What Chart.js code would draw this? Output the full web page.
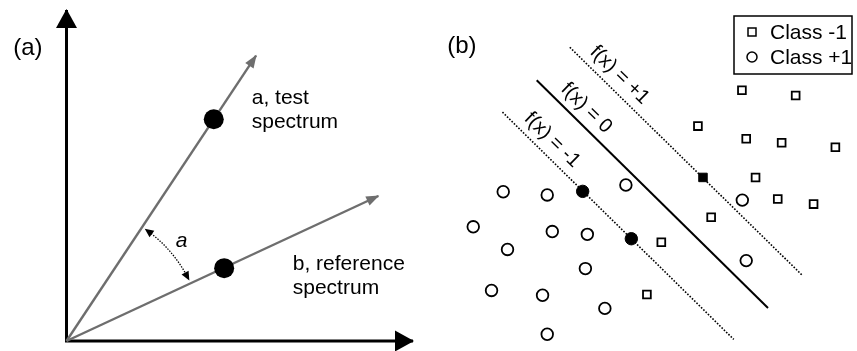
<!DOCTYPE html>
<html>
<head>
<meta charset="utf-8">
<script src="https://cdn.jsdelivr.net/npm/chart.js@4/dist/chart.umd.min.js"></script>
<style>
  html, body { margin: 0; padding: 0; background: #fff; }
  #wrap { position: relative; width: 857px; height: 351px; overflow: hidden; }
  canvas { position: absolute; top: 0; }
  #ca { left: 0; }
  #cb { left: 430px; }
</style>
</head>
<body>
<div id="wrap">
  <canvas id="ca" width="430" height="351"></canvas>
  <canvas id="cb" width="427" height="351"></canvas>
</div>
<script>
// ---------- Panel (a): spectral angle between two spectra ----------
const axisExtent = [10, 10];            // length of the x and y axes
const testVector = [5.47, 8.62];        // direction of a, test spectrum
const referenceVector = [9.0, 4.38];    // direction of b, reference spectrum
const testSpectrum = [4.25, 6.70];
const referenceSpectrum = [4.55, 2.20];
const angleArcRadius = 3.95;            // radius of the angle marker, x units
const spectrumLabels = [['a, test', 'spectrum'], ['b, reference', 'spectrum']];
const angleLabel = 'a';

// ---------- Panel (b): SVM decision boundary and margins ----------
const classMinusOne = [[7.24, 6.36], [8.62, 6.23], [6.11, 5.46], [7.35, 5.14], [8.26, 5.04],
  [9.64, 4.93], [7.59, 4.17], [8.16, 3.63], [9.08, 3.50], [6.45, 3.17], [5.17, 2.54], [4.80, 1.23]];
const classPlusOne = [[1.11, 3.81], [2.24, 3.73], [4.26, 3.98], [0.34, 2.93], [2.37, 2.81],
  [3.27, 2.74], [1.22, 2.36], [3.22, 1.88], [0.81, 1.33], [2.12, 1.21], [3.72, 0.88],
  [2.24, 0.23], [7.25, 3.60], [7.35, 2.08]];
const supportMinusOne = [[6.24, 4.17]];
const supportPlusOne = [[3.15, 3.82], [4.40, 2.63]];
const marginPlus = [[2.82, 7.44], [8.79, 1.71]];
const decisionBoundary = [[1.97, 6.61], [7.91, 0.89]];
const marginMinus = [[1.09, 5.81], [7.03, 0.10]];
const boundaryLabels = ['f(x) = +1', 'f(x) = 0', 'f(x) = -1'];
const legendLabels = ['Class -1', 'Class +1'];
const panelLabels = ['(a)', '(b)'];

const pts = (arr) => arr.map(([x, y]) => ({ x, y }));
const FONT = '"Liberation Sans", Arial, Helvetica, sans-serif';
const INK = '#000';
const GREY = '#6e6e6e';

function arrowHead(ctx, from, to, len, half, color) {
  const ang = Math.atan2(to.y - from.y, to.x - from.x);
  ctx.save();
  ctx.translate(to.x, to.y);
  ctx.rotate(ang);
  ctx.beginPath();
  ctx.moveTo(1, 0);
  ctx.lineTo(-len, half);
  ctx.lineTo(-len, -half);
  ctx.closePath();
  ctx.fillStyle = color;
  ctx.fill();
  ctx.restore();
}

const hiddenScales = (xmax, ymax) => ({
  x: { type: 'linear', min: 0, max: xmax, display: false },
  y: { type: 'linear', min: 0, max: ymax, display: false }
});

// ---- decorations for panel (a): arrowheads, angle arc, text ----
const spectraDecor = {
  id: 'spectraDecor',
  afterDatasetsDraw(chart) {
    const ctx = chart.ctx;
    const xs = chart.scales.x, ys = chart.scales.y;
    const P = (v) => ({ x: xs.getPixelForValue(v[0]), y: ys.getPixelForValue(v[1]) });

    chart.data.datasets.forEach((ds, i) => {
      if (!ds.arrow) return;
      const el = chart.getDatasetMeta(i).data;
      const n = el.length;
      if (ds.arrow.end) arrowHead(ctx, el[n - 2], el[n - 1], ds.arrow.len, ds.arrow.half, ds.borderColor);
      if (ds.arrow.start) arrowHead(ctx, el[1], el[0], ds.arrow.len, ds.arrow.half, ds.borderColor);
    });

    // angle between the two spectra
    const o = P([0, 0]);
    const ta = P(testVector), tb = P(referenceVector);
    const r = xs.getPixelForValue(angleArcRadius) - o.x;
    const angA = Math.atan2(ta.y - o.y, ta.x - o.x);
    const angB = Math.atan2(tb.y - o.y, tb.x - o.x);
    const gap = 4 / r;
    const a0 = angA + gap, a1 = angB - gap;
    ctx.save();
    ctx.strokeStyle = INK;
    ctx.lineWidth = 1.3;
    ctx.setLineDash([1.4, 1.4]);
    ctx.beginPath();
    ctx.arc(o.x, o.y, r, a0 + 0.03, a1 - 0.03, false);
    ctx.stroke();
    ctx.setLineDash([]);
    const onArc = (t) => ({ x: o.x + r * Math.cos(t), y: o.y + r * Math.sin(t) });
    arrowHead(ctx, onArc(a0 + 0.06), onArc(a0), 8, 4, INK);
    arrowHead(ctx, onArc(a1 - 0.06), onArc(a1), 8, 4, INK);
    ctx.restore();

    ctx.save();
    ctx.fillStyle = INK;
    ctx.textAlign = 'left';
    ctx.textBaseline = 'alphabetic';
    ctx.font = '21px ' + FONT;
    const anchors = chart.options.plugins.spectraDecor.labelAnchors;
    spectrumLabels.forEach((lines, k) => {
      const p = P(anchors[k]);
      lines.forEach((t, j) => ctx.fillText(t, p.x, p.y + j * 24));
    });
    ctx.font = 'italic 21px ' + FONT;
    ctx.textAlign = 'center';
    ctx.textBaseline = 'middle';
    const pa = P(chart.options.plugins.spectraDecor.angleAnchor);
    ctx.fillText(angleLabel, pa.x, pa.y);
    ctx.font = '24px ' + FONT;
    ctx.textAlign = 'left';
    const pl = P(chart.options.plugins.spectraDecor.panelAnchor);
    ctx.fillText(panelLabels[0], pl.x, pl.y);
    ctx.restore();
  }
};

new Chart(document.getElementById('ca'), {
  type: 'scatter',
  data: {
    datasets: [
      { data: pts([testSpectrum]), pointRadius: 10, pointBackgroundColor: '#000', pointBorderWidth: 0, clip: false },
      { data: pts([referenceSpectrum]), pointRadius: 10, pointBackgroundColor: '#000', pointBorderWidth: 0, clip: false },
      { data: pts([[0, 0], testVector]), showLine: true, borderColor: GREY, borderWidth: 2.4,
        pointRadius: 0, clip: false, arrow: { end: true, len: 12, half: 5 } },
      { data: pts([[0, 0], referenceVector]), showLine: true, borderColor: GREY, borderWidth: 2.4,
        pointRadius: 0, clip: false, arrow: { end: true, len: 12, half: 5 } },
      { data: pts([[0, axisExtent[1]], [0, 0], [axisExtent[0], 0]]), showLine: true, borderColor: '#000',
        borderWidth: 3, borderJoinStyle: 'miter', pointRadius: 0, clip: false,
        arrow: { start: true, end: true, len: 18, half: 10.5 } }
    ]
  },
  options: {
    responsive: false,
    animation: false,
    events: [],
    layout: { padding: { left: 66.5, right: 17, top: 8, bottom: 10 } },
    scales: hiddenScales(axisExtent[0], axisExtent[1]),
    plugins: {
      legend: { display: false },
      tooltip: { enabled: false },
      spectraDecor: {
        labelAnchors: [[5.345, 7.16], [6.53, 2.15]],
        angleAnchor: [3.32, 3.03],
        panelAnchor: [-1.54, 8.83]
      }
    }
  },
  plugins: [spectraDecor]
});

// ---- decorations for panel (b): rotated boundary labels, legend, panel tag ----
const svmDecor = {
  id: 'svmDecor',
  afterDatasetsDraw(chart) {
    const ctx = chart.ctx;
    const xs = chart.scales.x, ys = chart.scales.y;
    ctx.save();
    ctx.fillStyle = INK;
    ctx.font = '20px ' + FONT;
    ctx.textAlign = 'center';
    ctx.textBaseline = 'middle';
    chart.data.datasets.forEach((ds, i) => {
      if (!ds.boundaryLabel) return;
      const el = chart.getDatasetMeta(i).data;
      const dx = el[1].x - el[0].x, dy = el[1].y - el[0].y;
      const L = Math.hypot(dx, dy);
      const ux = dx / L, uy = dy / L;
      const cx = el[0].x + ux * 55 + uy * 15;
      const cy = el[0].y + uy * 55 - ux * 15;
      ctx.save();
      ctx.translate(cx, cy);
      ctx.rotate(Math.atan2(dy, dx));
      ctx.fillText(ds.boundaryLabel, 0, 0);
      ctx.restore();
    });

    // panel tag
    ctx.font = '24px ' + FONT;
    ctx.textAlign = 'left';
    const tag = chart.options.plugins.svmDecor.panelAnchor;
    ctx.fillText(panelLabels[1], xs.getPixelForValue(tag[0]), ys.getPixelForValue(tag[1]));

    // legend box
    const bw = 118, bh = 58;
    const bx = chart.width - 5 - bw, by = 16;
    ctx.lineWidth = 1.5;
    ctx.strokeStyle = '#000';
    ctx.strokeRect(bx, by, bw, bh);
    ctx.font = '21px ' + FONT;
    const items = chart.options.plugins.svmDecor.legendItems;
    legendLabels.forEach((t, k) => {
      const ds = chart.data.datasets[items[k]];
      const my = by + 16 + k * 25;
      const mx = bx + 18;
      ctx.lineWidth = 1.5;
      ctx.strokeStyle = '#000';
      ctx.beginPath();
      if (ds.pointStyle === 'rect') ctx.rect(mx - 4, my - 4, 8, 8);
      else ctx.arc(mx, my, 5, 0, Math.PI * 2);
      ctx.stroke();
      ctx.fillStyle = INK;
      ctx.fillText(t, bx + 36, my + 1);
    });
    ctx.restore();
  }
};

const dotted = { showLine: true, borderColor: '#000', borderWidth: 1.6, borderDash: [1.6, 1.6],
  pointRadius: 0, clip: false };

new Chart(document.getElementById('cb'), {
  type: 'scatter',
  data: {
    datasets: [
      { label: 'Support vectors, class -1', data: pts(supportMinusOne), pointStyle: 'rect', pointRadius: 6,
        pointBackgroundColor: '#000', pointBorderColor: '#000', pointBorderWidth: 1, clip: false },
      { label: 'Support vectors, class +1', data: pts(supportPlusOne), pointStyle: 'circle', pointRadius: 6.2,
        pointBackgroundColor: '#000', pointBorderColor: '#000', pointBorderWidth: 1, clip: false },
      { label: legendLabels[0], data: pts(classMinusOne), pointStyle: 'rect', pointRadius: 5.5,
        pointBackgroundColor: '#fff', pointBorderColor: '#000', pointBorderWidth: 1.8, clip: false },
      { label: legendLabels[1], data: pts(classPlusOne), pointStyle: 'circle', pointRadius: 5.8,
        pointBackgroundColor: '#fff', pointBorderColor: '#000', pointBorderWidth: 1.8, clip: false },
      Object.assign({ data: pts(marginPlus), boundaryLabel: boundaryLabels[0] }, dotted),
      { data: pts(decisionBoundary), boundaryLabel: boundaryLabels[1], showLine: true, borderColor: '#000',
        borderWidth: 2, pointRadius: 0, clip: false },
      Object.assign({ data: pts(marginMinus), boundaryLabel: boundaryLabels[2] }, dotted)
    ]
  },
  options: {
    responsive: false,
    animation: false,
    events: [],
    layout: { padding: { left: 30, right: 7, top: 25, bottom: 6 } },
    scales: hiddenScales(10, 8),
    plugins: {
      legend: { display: false },
      tooltip: { enabled: false },
      svmDecor: { panelAnchor: [-0.33, 7.475], legendItems: [2, 3] }
    }
  },
  plugins: [svmDecor]
});
</script>
</body>
</html>
